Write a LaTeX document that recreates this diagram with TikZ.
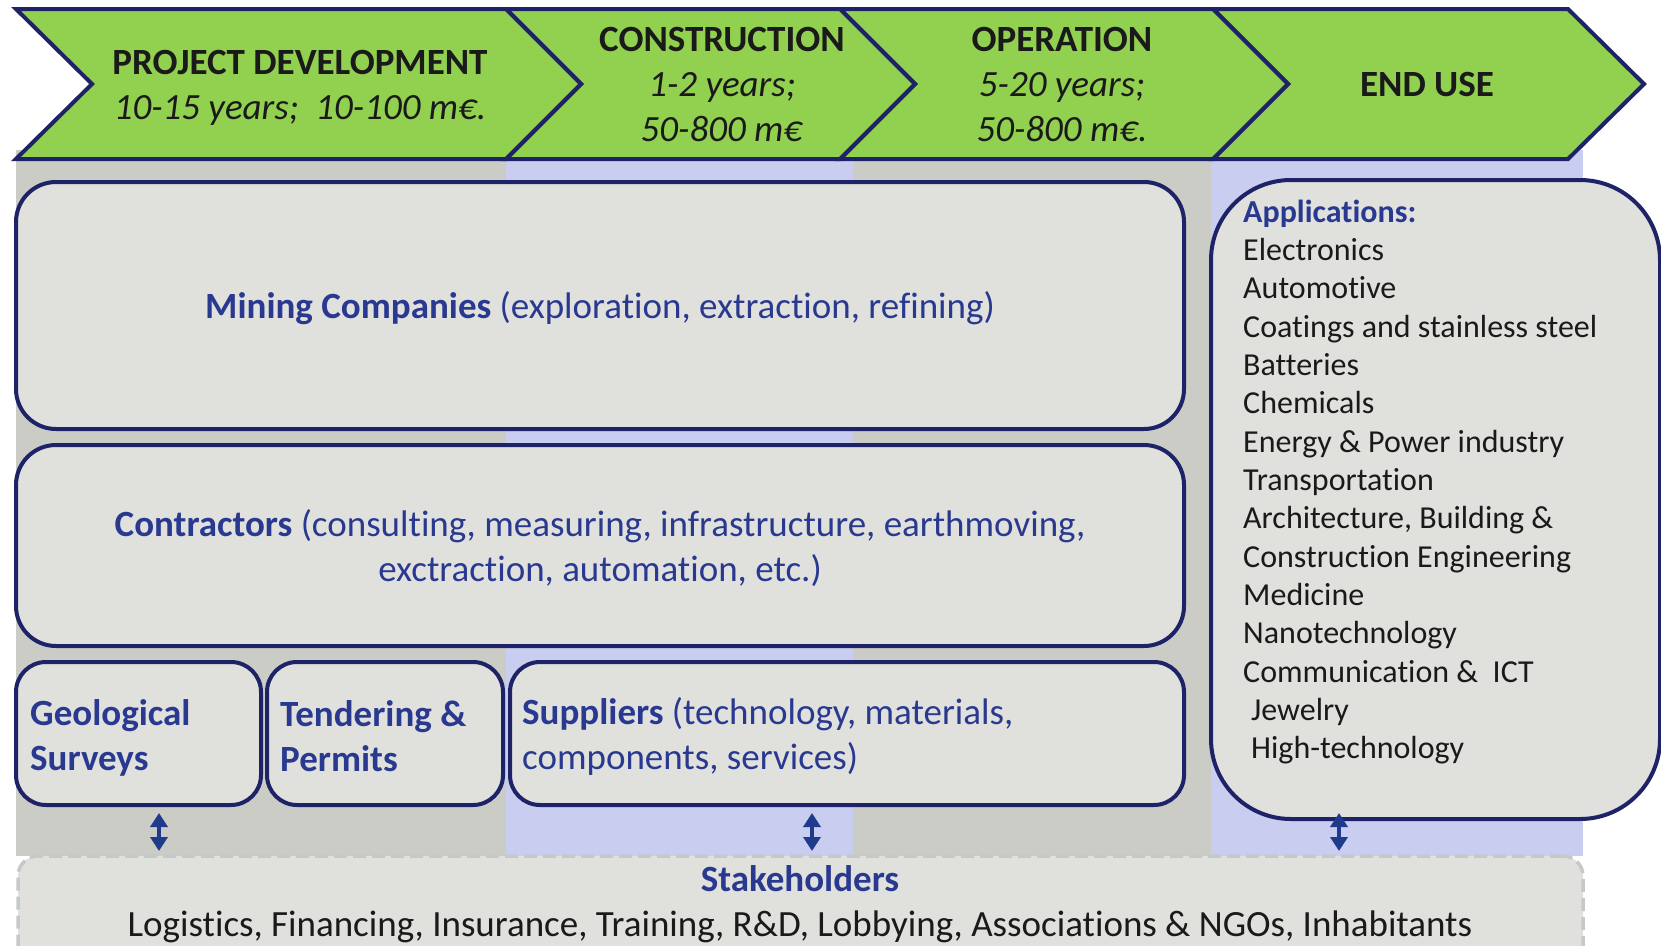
\documentclass[tikz,border=0pt]{standalone}
\usepackage{fontspec}
\setmainfont{Carlito}[Ligatures=CommonOff]
\usetikzlibrary{arrows.meta}
\definecolor{chgreen}{HTML}{92D050}
\definecolor{navy}{HTML}{1E2266}
\definecolor{bandgray}{HTML}{CBCCC6}
\definecolor{lav}{HTML}{C9CDF0}
\definecolor{boxfill}{HTML}{E0E1DD}
\definecolor{txtblue}{HTML}{2A3990}
\definecolor{arrblue}{HTML}{1F3C8C}
\definecolor{dashgray}{HTML}{C4C9C9}
\definecolor{txtblack}{HTML}{1A1A1A}
\tikzset{
  chev/.style={fill=chgreen, draw=navy, line width=4pt, line join=miter},
  box/.style={draw=navy, fill=boxfill, line width=4pt, rounded corners=#1, inner sep=0pt},
  box/.default=40pt,
  head/.style={font=\fontsize{37}{45}\selectfont, text=txtblack, align=center, inner sep=0pt},
  bluetxt/.style={font=\fontsize{37}{45}\selectfont, text=txtblue, inner sep=0pt},
  apptxt/.style={font=\fontsize{32}{38}\selectfont, text=txtblack, inner sep=0pt, anchor=base west},
  dbl/.style={{Triangle[width=17pt,length=14pt]}-{Triangle[width=17pt,length=14pt]}, line width=4pt, draw=arrblue}
}
\begin{document}
\begin{tikzpicture}[x=1pt,y=-1pt]
\useasboundingbox (0,0) rectangle (1661,945);
\clip (0,0) rectangle (1661,945);
% column bands
\fill[bandgray] (16,150) rectangle (506,856);
\fill[lav] (506,150) rectangle (853,856);
\fill[bandgray] (853,150) rectangle (1211,856);
\fill[lav] (1211,150) rectangle (1583,856);
% chevrons
\path[chev] (1213,9) -- (1568,9) -- (1644,84) -- (1568,159) -- (1213,159) -- (1288,84) -- cycle;
\path[chev] (840,9) -- (1213,9) -- (1288,84) -- (1213,159) -- (840,159) -- (915,84) -- cycle;
\path[chev] (506,9) -- (840,9) -- (915,84) -- (840,159) -- (506,159) -- (581,84) -- cycle;
\path[chev] (16,9) -- (506,9) -- (581,84) -- (506,159) -- (16,159) -- (92,84) -- cycle;
\node[head] (pd) at (300,88) {\textbf{PROJECT DEVELOPMENT}\\\textit{10-15 years;\ \ 10-100 m€.}};
\node[head] (con) at (722,85) {\textbf{CONSTRUCTION}\\\textit{1-2 years;}\\\textit{50-800 m€}};
\node[head] (op) at (1062,85) {\textbf{OPERATION}\\\textit{5-20 years;}\\\textit{50-800 m€.}};
\node[head] (eu) at (1427,85) {\textbf{END USE}};
% boxes
\node[box, minimum width=1168pt, minimum height=247pt] (mining) at (600,305.5) {};
\node[bluetxt] (miningtxt) at ([yshift=-3pt]mining.center) {\textbf{Mining Companies} (exploration, extraction, refining)};
\node[box, minimum width=1168pt, minimum height=201pt] (contr) at (600,545.5) {};
\node[bluetxt, align=center] (contrtxt) at ([yshift=-3pt]contr.center) {\textbf{Contractors} (consulting, measuring, infrastructure, earthmoving,\\exctraction, automation, etc.)};
\node[box=30pt, minimum width=245pt, minimum height=143pt] (geo) at (138.5,733.5) {};
\node[bluetxt, align=left, anchor=west] (geotxt) at ([xshift=16pt,yshift=-4pt]geo.west) {\textbf{Geological}\\\textbf{Surveys}};
\node[box=30pt, minimum width=236pt, minimum height=143pt] (tend) at (385,733.5) {};
\node[bluetxt, align=left, anchor=west] (tendtxt) at ([xshift=15pt,yshift=-3pt]tend.west) {\textbf{Tendering \&}\\\textbf{Permits}};
\node[box=30pt, minimum width=674pt, minimum height=143pt] (supp) at (847,733.5) {};
\node[bluetxt, align=left, anchor=west] (supptxt) at ([xshift=14pt,yshift=-3pt]supp.west) {\textbf{Suppliers} (technology, materials,\\components, services)};
\node[box=80pt, minimum width=449pt, minimum height=639pt] (apps) at (1435.5,499.5) {};
\node[apptxt, text=txtblue] (app0) at (1243,222) {\textbf{Applications:}};
\foreach \t [count=\i] in {Electronics, Automotive, Coatings and stainless steel, Batteries, Chemicals, Energy \& Power industry, Transportation, Architecture\hbox{,} Building \&, Construction Engineering, Medicine, Nanotechnology, Communication \&\ \ ICT, \hspace*{0.25em}Jewelry, \hspace*{0.25em}High-technology}
  \node[apptxt] (app\i) at (1243,222+38.35*\i) {\t};
% stakeholders
\node[draw=dashgray, fill=boxfill, line width=3.5pt, dash pattern=on 13pt off 6pt, rounded corners=20pt, minimum width=1565pt, minimum height=110pt, inner sep=0pt] (stake) at (800.5,911) {};
\node[bluetxt] (staketitle) at (800,879) {\textbf{Stakeholders}};
\node[head] (staketxt) at (800,927) {Logistics, Financing, Insurance, Training, R\&D, Lobbying, Associations \& NGOs, Inhabitants};
% arrows
\coordinate (g1) at (159,813); \coordinate (g2) at (159,851);
\coordinate (s1) at (812,813); \coordinate (s2) at (812,851);
\coordinate (e1) at (1339,813); \coordinate (e2) at (1339,851);
\draw[dbl] (g1) -- (g2);
\draw[dbl] (s1) -- (s2);
\draw[dbl] (e1) -- (e2);
\end{tikzpicture}
\end{document}
